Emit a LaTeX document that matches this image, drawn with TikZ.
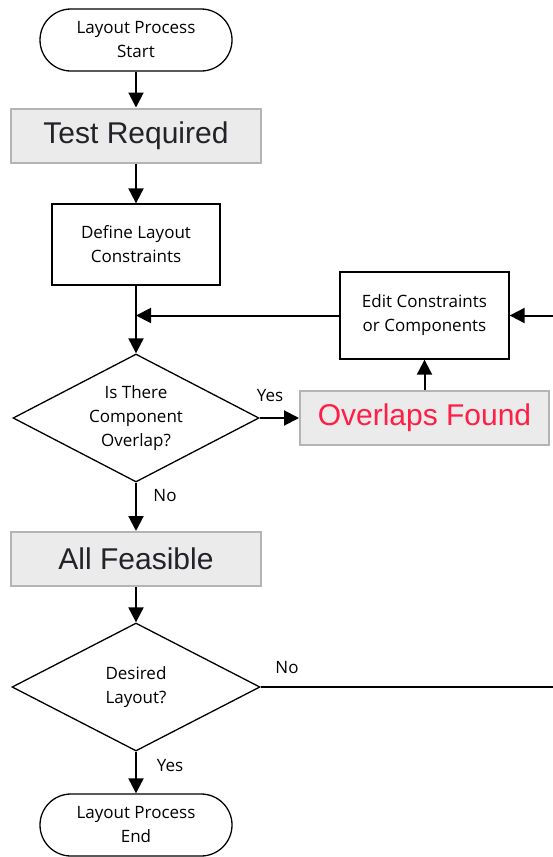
\documentclass[tikz,border=0pt]{standalone}
\usepackage{fontspec}
\setmainfont{Open Sans}
\newfontfamily\headfont{Liberation Sans}
\usetikzlibrary{shapes.geometric,arrows.meta}
\definecolor{boxgray}{RGB}{235,235,235}
\definecolor{boxedge}{RGB}{180,180,180}
\definecolor{alertred}{RGB}{255,30,70}
\definecolor{headink}{RGB}{34,34,40}
\tikzset{
  every node/.style={font=\fontsize{17}{24}\selectfont, align=center},
  terminal/.style={draw, line width=1.3pt, rectangle, rounded corners=31pt,
    minimum width=192pt, minimum height=62pt, inner sep=0pt},
  procbox/.style={draw, line width=1.3pt, rectangle, inner sep=0pt},
  status/.style={draw=boxedge, fill=boxgray, line width=2pt, rectangle,
    minimum width=250pt, minimum height=54pt, inner sep=0pt,
    font=\headfont\fontsize{30}{34}\selectfont, text=headink},
  decision/.style={draw, line width=1.3pt, shape=diamond, aspect=1.92,
    minimum width=246pt, minimum height=128pt, inner sep=0pt},
  flow/.style={line width=2pt, -{Triangle[length=15pt,width=15pt]}},
  plain/.style={line width=2pt},
  tag/.style={inner sep=0pt}
}
\begin{document}
\begin{tikzpicture}[x=1pt,y=-1pt]
  \useasboundingbox (0,0) rectangle (553,857);

  % main column
  \node[terminal] (start) at (136,40) {Layout Process\\Start};
  \node[status] (test) at (136,135.5) {Test Required};
  \node[procbox, minimum width=168pt, minimum height=81pt] (define) at (136,244.5) {Define Layout\\Constraints};
  \node[decision] (overlap) at (136,418) {Is There\\Component\\Overlap?};
  \node[status] (feasible) at (136,559) {All Feasible};
  \node[decision, minimum width=248pt] (desired) at (136,687) {Desired\\Layout?};
  \node[terminal] (finish) at (136,825) {Layout Process\\End};

  % correction loop
  \node[status, minimum width=249pt, text=alertred] (found) at (424.5,418) {Overlaps Found};
  \node[procbox, minimum width=169pt, minimum height=87pt] (edit) at (424.5,315.5) {Edit Constraints\\or Components};

  \coordinate (merge) at (136,315.5);
  \coordinate (loopin) at (553,315.5);
  \coordinate (loopout) at (553,687);

  % connectors
  \draw[flow] (start) -- (test);
  \draw[flow] (test) -- (define);
  \draw[flow] (define) -- (overlap);
  \draw[flow] (edit) -- (merge);
  \draw[flow] (overlap.east) -- (found.west);
  \draw[flow] (found) -- (edit);
  \draw[flow] (loopin) -- (edit.east);
  \draw[flow] (overlap) -- (feasible);
  \draw[flow] (feasible) -- (desired);
  \draw[plain] (desired.east) -- (loopout);
  \draw[flow] (desired) -- (finish);

  % branch labels
  \node[tag] (yes1) at (270,396) {Yes};
  \node[tag] (no1) at (165,496) {No};
  \node[tag] (no2) at (287,668) {No};
  \node[tag] (yes2) at (170,766) {Yes};
\end{tikzpicture}
\end{document}
